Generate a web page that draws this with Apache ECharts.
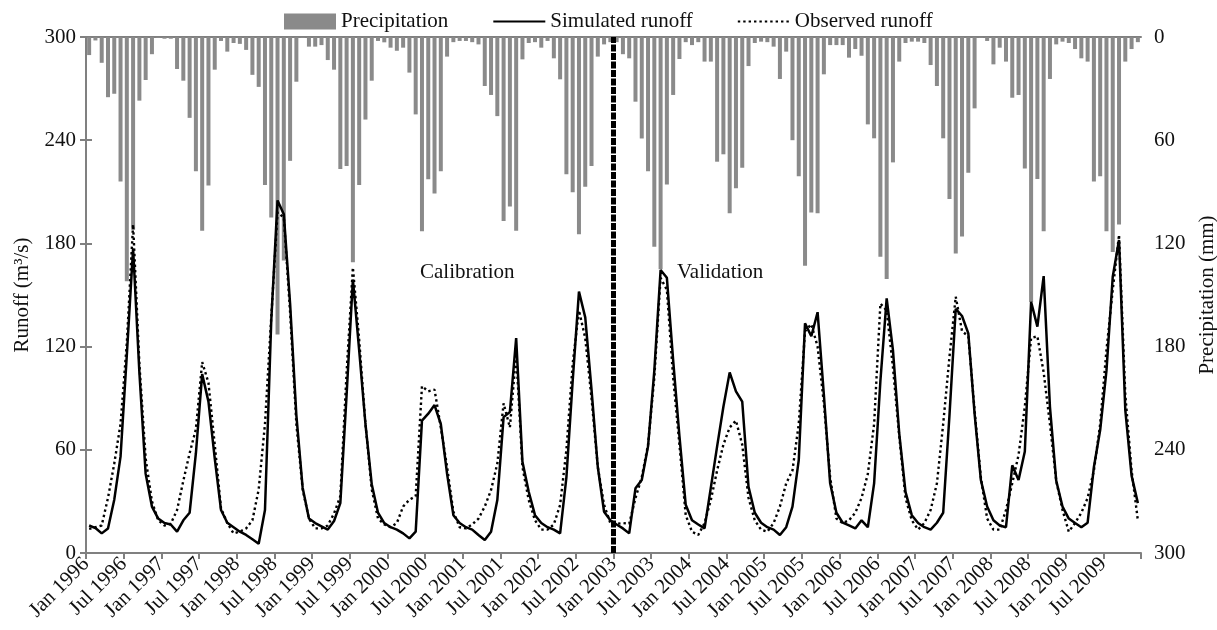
<!DOCTYPE html>
<html>
<head>
<meta charset="utf-8">
<script src="https://cdn.jsdelivr.net/npm/echarts@6/dist/echarts.min.js"></script>
<style>html,body{margin:0;padding:0;background:#fff}#chart{width:1217px;height:630px}</style>
</head>
<body>
<div id="chart"></div>
<script>
// Monthly series, Jan 1996 .. Dec 2009 (168 months)
const tickLabels = ['Jan 1996','Jul 1996','Jan 1997','Jul 1997','Jan 1998','Jul 1998','Jan 1999','Jul 1999',
  'Jan 2000','Jul 2000','Jan 2001','Jul 2001','Jan 2002','Jul 2002','Jan 2003','Jul 2003','Jan 2004','Jul 2004',
  'Jan 2005','Jul 2005','Jan 2006','Jul 2006','Jan 2007','Jul 2007','Jan 2008','Jul 2008','Jan 2009','Jul 2009'];
const splitLabel = 'Jan 2003';

const precipitation = [
  10.5,2,15,35,33,84,142,112,37,25,10,0.5,
  1,1,18.6,25.4,47,78,112.6,86.4,19,2.3,8.5,3.5,
  4,7.5,22,29,86,105,173,130,72,26,0.5,5.6,
  5.6,4.7,13.4,19,76.7,75,131,86,48,25.4,2.3,3.1,
  6.2,8,6.2,20.7,45,113,82.7,91,78,11.4,3,2.3,
  2.3,3,4.3,28.5,33.7,46,107,98.6,112.6,13,3.5,3,
  6.2,2.3,12.4,24.6,79.8,90.3,114.7,87,75,11.4,4.3,3,
  3,10,12.4,37.6,59,78,122,135,85.7,33.7,12.8,3,
  4.7,3,14.3,14.3,72.5,68.2,102.5,88,76,16.9,3.5,2.7,
  3,5.6,24.4,8.5,60,81,133,102,102.5,21.7,4.7,4.7,
  4.7,12,7,10.9,50.8,58.9,127.7,140.7,72.9,14.3,3.5,2.7,
  2.7,3.5,16.3,28.5,58.9,94.2,125.8,116,78.9,41.5,0.5,2.3,
  15.9,6.2,14.3,35.3,33.7,76.4,154,82.6,113,24.4,4.3,2.7,
  3.5,7,12.4,14.3,84,81,113,125,109,14.3,7,3
];
const simulated = [
  16,14.5,11.4,14.3,31,56,115,177,105,46,27,20,
  17.4,16.6,12.4,19,23.4,58,104,88,55,25,17.6,15,
  12.4,10.5,8,5.4,25,135,205,197,145,80,38,20,
  17.4,15.5,13.6,18.6,29,92,159,118,75,40,23.4,17.4,
  15,13.6,11.4,8.5,12.4,77,81,86,75,46,22,17.4,
  15,13.6,10.5,7.6,12.4,30.8,79,82,125,53,35.6,22,
  17.4,15,13.6,11.4,44,100,152,137,95,50,24,19,
  16.6,14.3,11.4,37.6,42.4,62,106,164.5,160,112,68,28,
  19,16.6,14.3,38,62,85,105,94,88,38.5,23.4,17.6,
  15,13.6,10.5,15,27,54,133.5,126,140,92,40.5,23.4,
  17.6,16,14.3,19,15,40.5,100,148,118,69.6,35.5,22,
  17.4,15,13.6,17.6,23.4,80,142,137.8,127.7,81,42.4,27,
  19,16,15,51,42.4,59,146,131.6,161,85,42,27,
  20,17.4,15,17.6,50,71.5,106,160.6,182,83,45,29
];
const observed = [
  14,15,16,32,52,75,122,191,110,55,30,19,
  16,17,25,42,58,72,111,99,63,26,17.4,11.4,
  12.4,14.3,19,37,75,137,198,195,140,75,37,20,
  14.3,14.3,16,23,33,105,166,124,75,37,20,16.6,
  15,17.4,27,31,33,97,94,95,73,50,24,15,
  14.3,16.6,20,27,36.6,52,87,73,116,50,30.8,19,
  13.6,13.6,16.6,28,60,110,141,125,90,50,28,17.4,
  17,17.4,17,32,44,63,102,160,153,102,63,22,
  12.4,10.5,17.4,30.8,48,63,73,77,63,32,19,13.6,
  12.4,17.4,27,40.5,48,75,129,133,120,87,44,20,
  17.4,19,23.4,32,46,75,145,141,108,68,32,19,
  13.6,17.4,25,40.5,75,114,149,129,126,83,44,20,
  13.6,13.6,25,40.5,57,85,125,126,105,75,42,25,
  12.4,17.4,23.4,32,48,75,118,153,185,92,48,19
];

const nMonths = precipitation.length;
const splitMonth = tickLabels.indexOf(splitLabel) * 6;
const toPts = arr => arr.map((v, i) => [i + 0.5, v]);

const FONT = '"Liberation Serif", "Times New Roman", serif';
const GREY = '#8a8a8a';
const AX = '#808080';

const chart = echarts.init(document.getElementById('chart'));
chart.setOption({
  animation: false,
  backgroundColor: '#fff',
  textStyle: { fontFamily: FONT, color: '#111' },
  grid: { left: 86, right: 76, top: 37, bottom: 77, containLabel: false, outerBoundsMode: 'none' },
  legend: {
    top: 6, left: 279, itemGap: 44, itemWidth: 52, itemHeight: 16,
    textStyle: { fontFamily: FONT, fontSize: 21, color: '#111' },
    data: [
      { name: 'Precipitation', icon: 'rect' },
      { name: 'Simulated runoff', itemStyle: { opacity: 0 } },
      { name: 'Observed runoff', itemStyle: { opacity: 0 } }
    ]
  },
  xAxis: [{
    type: 'value', min: 0, max: nMonths, interval: 6, position: 'bottom',
    axisLine: { show: true, lineStyle: { color: AX, width: 2 } },
    axisTick: { show: true, length: 6, lineStyle: { color: AX, width: 2 } },
    splitLine: { show: false },
    axisLabel: {
      rotate: 45, margin: 8, fontSize: 21, fontFamily: FONT, color: '#111',
      formatter: v => tickLabels[Math.round(v / 6)] || ''
    }
  }, {
    type: 'value', min: 0, max: nMonths, position: 'top',
    axisLine: { show: true, lineStyle: { color: AX, width: 2 } },
    axisTick: { show: false }, axisLabel: { show: false }, splitLine: { show: false }
  }],
  yAxis: [{
    type: 'value', min: 0, max: 300, interval: 60, position: 'left',
    name: 'Runoff (m³/s)', nameLocation: 'middle', nameGap: 53, nameRotate: 90,
    nameTextStyle: { fontFamily: FONT, fontSize: 21, color: '#111' },
    axisLine: { show: true, lineStyle: { color: AX, width: 2 } },
    axisTick: { show: true, length: 6, lineStyle: { color: AX, width: 2 } },
    splitLine: { show: false },
    axisLabel: { margin: 10, fontSize: 21, fontFamily: FONT, color: '#111' }
  }, {
    type: 'value', min: 0, max: 300, interval: 60, position: 'right', inverse: true,
    name: 'Precipitation (mm)', nameLocation: 'middle', nameGap: 56, nameRotate: 90,
    nameTextStyle: { fontFamily: FONT, fontSize: 21, color: '#111' },
    axisLine: { show: true, lineStyle: { color: AX, width: 2 } },
    axisTick: { show: true, length: 6, lineStyle: { color: AX, width: 2 } },
    splitLine: { show: false },
    axisLabel: { margin: 13, fontSize: 21, fontFamily: FONT, color: '#111' }
  }],
  series: [{
    name: 'Precipitation', type: 'bar', xAxisIndex: 0, yAxisIndex: 1,
    data: toPts(precipitation), barWidth: 4,
    itemStyle: { color: GREY }
  }, {
    name: 'Simulated runoff', type: 'line', xAxisIndex: 0, yAxisIndex: 0,
    data: toPts(simulated), symbol: 'none',
    lineStyle: { color: '#000', width: 2.5 }, itemStyle: { color: '#000' },
    markLine: {
      silent: true, symbol: ['none', 'none'], label: { show: false },
      lineStyle: { color: '#000', width: 5, type: [7, 1.5] },
      data: [{ xAxis: splitMonth }]
    }
  }, {
    name: 'Observed runoff', type: 'line', xAxisIndex: 0, yAxisIndex: 0,
    data: toPts(observed), symbol: 'none',
    lineStyle: { color: '#000', width: 2.4, type: [2.4, 3] }, itemStyle: { color: '#000' }
  }],
  graphic: [
    { type: 'text', left: 420, top: 262, style: { text: 'Calibration', font: '21px ' + FONT, fill: '#111' } },
    { type: 'text', left: 677, top: 262, style: { text: 'Validation', font: '21px ' + FONT, fill: '#111' } }
  ]
});
</script>
</body>
</html>
